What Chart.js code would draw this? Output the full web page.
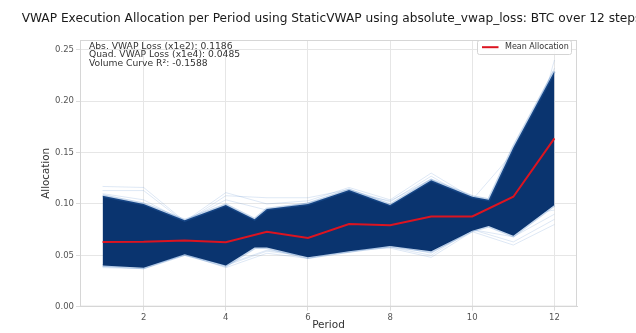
<!DOCTYPE html>
<html><head><meta charset="utf-8">
<script src="https://cdn.jsdelivr.net/npm/chart.js@4.4.1/dist/chart.umd.min.js"></script>
<style>html,body{margin:0;padding:0;background:#fff;}canvas{display:block;}</style>
</head><body>
<canvas id="c" width="636" height="333"></canvas>
<script>
// ---- text ----
const chartTitle = "VWAP Execution Allocation per Period using StaticVWAP using absolute_vwap_loss: BTC over 12 steps";
const xLabel = "Period";
const yLabel = "Allocation";
const statLines = ["Abs. VWAP Loss (x1e2): 0.1186", "Quad. VWAP Loss (x1e4): 0.0485", "Volume Curve R\u00b2: -0.1588"];
const meanLabel = "Mean Allocation";

// ---- data ----
const periods = [1,2,3,4,5,6,7,8,9,10,11,12];
const meanAllocation = [0.0630,0.0632,0.0645,0.0628,0.0730,0.0668,0.0805,0.0792,0.0878,0.0878,0.1070,0.1638];

// envelope of the dense bundle of allocation paths
const bandPeriods = [1,2,3,4,4.7,5,6,7,8,9,10,10.4,11,12];
const bandUpper   = [0.108,0.100,0.084,0.099,0.085,0.095,0.100,0.1135,0.099,0.123,0.107,0.104,0.155,0.229];
const bandLower   = [0.040,0.038,0.051,0.040,0.0575,0.0575,0.048,0.054,0.059,0.054,0.074,0.0785,0.069,0.099];

// a few faint outlying paths
const pathA = [0.117,0.116,0.083,0.111,0.100,0.103,0.116,0.104,0.130,0.106,0.096,0.240];
const pathB = [0.113,0.113,0.082,0.108,0.106,0.106,0.114,0.102,0.127,0.104,0.150,0.232];
const pathC = [0.038,0.037,0.051,0.038,0.052,0.047,0.055,0.057,0.048,0.073,0.060,0.080];
const pathD = [0.041,0.039,0.050,0.041,0.055,0.050,0.053,0.060,0.052,0.075,0.063,0.085];
const pathE = [0.110,0.104,0.083,0.104,0.094,0.101,0.111,0.103,0.124,0.102,0.088,0.094];
const pathF = [0.039,0.040,0.052,0.040,0.054,0.049,0.056,0.058,0.050,0.075,0.068,0.090];

const xTicks = [2,4,6,8,10,12];
const yTicks = [0,0.05,0.10,0.15,0.20,0.25];

// ---- build ----
const FONT = "'DejaVu Sans', 'Liberation Sans', sans-serif";
Chart.defaults.font.family = FONT;
const pts = (xs, ys) => xs.map((x, i) => ({x: x, y: ys[i]}));
const faint = [pathA, pathB, pathC, pathD, pathE, pathF].map(p => ({
  data: pts(periods, p), borderColor: 'rgba(90,140,205,0.2)', borderWidth: 1,
  pointRadius: 0, fill: false, order: 5, tension: 0
}));

const datasets = [
  { label: meanLabel, data: pts(periods, meanAllocation), borderColor: '#dc1420', borderWidth: 2,
    pointRadius: 0, fill: false, order: 0, tension: 0 },
  { label: 'lower', data: pts(bandPeriods, bandLower), borderColor: 'rgba(50,110,185,0.28)', borderWidth: 3,
    pointRadius: 0, fill: false, order: 3, tension: 0 },
  { label: 'upper', data: pts(bandPeriods, bandUpper), borderColor: 'rgba(50,110,185,0.28)', borderWidth: 3,
    backgroundColor: '#0a346f', pointRadius: 0, fill: 1, order: 2, tension: 0 },
  ...faint
];

const decor = {
  id: 'decor',
  afterDraw(chart) {
    const ctx = chart.ctx, a = chart.chartArea;
    ctx.save();
    // spines
    ctx.strokeStyle = '#d6d6d6'; ctx.lineWidth = 1;
    ctx.strokeRect(a.left + 0.5, a.top + 0.5, a.right - a.left - 1, a.bottom - a.top - 1);
    // title
    ctx.fillStyle = '#1a1a1a';
    ctx.font = '12.2px ' + FONT;
    ctx.textAlign = 'center'; ctx.textBaseline = 'middle';
    ctx.fillText(chartTitle, (a.left + a.right) / 2 + 3, 19);
    // stats text
    ctx.fillStyle = '#333';
    ctx.font = '9.2px ' + FONT;
    ctx.textAlign = 'left';
    statLines.forEach((t, i) => ctx.fillText(t, a.left + 9, a.top + 6.3 + i * 8.6));
    // legend
    const lx = a.right - 99.5, ly = a.top + 0.5, lw = 94, lh = 14;
    ctx.beginPath();
    if (ctx.roundRect) ctx.roundRect(lx, ly, lw, lh, 2); else ctx.rect(lx, ly, lw, lh);
    ctx.fillStyle = 'rgba(255,255,255,0.85)'; ctx.fill();
    ctx.strokeStyle = '#d4d4d4'; ctx.lineWidth = 1; ctx.stroke();
    const ds = chart.data.datasets[0];
    ctx.beginPath();
    ctx.moveTo(lx + 4.5, ly + 6.7); ctx.lineTo(lx + 21, ly + 6.7);
    ctx.strokeStyle = ds.borderColor; ctx.lineWidth = 2; ctx.stroke();
    ctx.fillStyle = '#333';
    ctx.font = '8px ' + FONT;
    ctx.textAlign = 'left'; ctx.textBaseline = 'middle';
    ctx.fillText(ds.label, lx + 27.5, ly + 6.7);
    ctx.restore();
  }
};

new Chart(document.getElementById('c'), {
  type: 'line',
  data: { datasets: datasets },
  plugins: [decor],
  options: {
    responsive: false, animation: false, devicePixelRatio: 1,
    layout: { padding: { left: 0, right: 59, top: 40, bottom: 0 } },
    plugins: { legend: { display: false }, tooltip: { enabled: false }, title: { display: false } },
    scales: {
      x: {
        type: 'linear', min: 0.45, max: 12.55,
        afterBuildTicks: s => { s.ticks = xTicks.map(v => ({value: v})); },
        afterFit: s => { s.height = 26.3; },
        grid: { color: '#e6e6e6', lineWidth: 1, tickLength: 4, tickColor: '#dcdcdc' },
        border: { color: '#d6d6d6' },
        ticks: { color: '#555', font: { size: 8.5 }, padding: 1.5, maxRotation: 0, autoSkip: false,
                 callback: v => String(v) },
        title: { display: true, text: xLabel, color: '#333', font: { size: 10.5 }, padding: { top: 0, bottom: 1 } }
      },
      y: {
        type: 'linear', min: 0, max: 0.2595,
        afterBuildTicks: s => { s.ticks = yTicks.map(v => ({value: v})); },
        afterFit: s => { s.width = 80; },
        grid: { color: '#e6e6e6', lineWidth: 1, tickLength: 4, tickColor: '#dcdcdc' },
        border: { color: '#d6d6d6' },
        ticks: { color: '#555', font: { size: 8.5 }, padding: 2, autoSkip: false,
                 callback: v => Number(v).toFixed(2) },
        title: { display: true, text: yLabel, color: '#333', font: { size: 10.3 }, padding: { top: 40.5, bottom: 0 } }
      }
    }
  }
});
</script>
</body></html>
